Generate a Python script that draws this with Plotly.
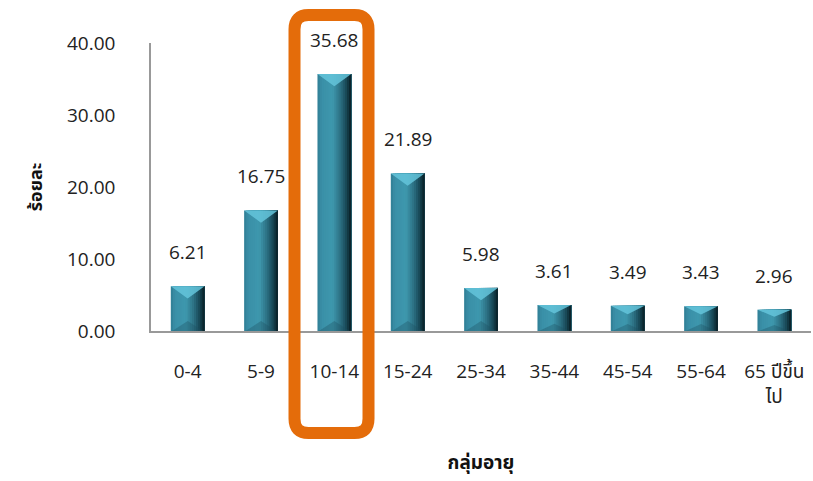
import plotly.graph_objects as go

# Age-group shares (percent)
age_groups = ["0-4", "5-9", "10-14", "15-24", "25-34", "35-44", "45-54", "55-64", "65 ปีขึ้น<br>ไป"]
percent = [6.21, 16.75, 35.68, 21.89, 5.98, 3.61, 3.49, 3.43, 2.96]
y_ticks = [0, 10, 20, 30, 40]

FONT = "Open Sans, Noto Sans Thai, Noto Sans, sans-serif"
BAR_W = 0.46
xs = list(range(len(percent)))

# horizontal shading across each bar: left -> right
stops = [
    (0.00, (47, 126, 148)),
    (0.12, (58, 143, 167)),
    (0.45, (62, 152, 174)),
    (0.68, (44, 112, 131)),
    (0.86, (23, 70, 84)),
    (1.00, (9, 28, 34)),
]


def shade(t):
    for (t0, c0), (t1, c1) in zip(stops, stops[1:]):
        if t0 <= t <= t1:
            f = (t - t0) / (t1 - t0)
            return "rgb(%d,%d,%d)" % tuple(round(a + (b - a) * f) for a, b in zip(c0, c1))
    return "rgb(%d,%d,%d)" % stops[-1][1]


fig = go.Figure()

# each layer starts a bit further right and runs to the bar's right edge,
# so the layers stack without seams
N = 16
strip = BAR_W / N
for k in range(N):
    fig.add_trace(go.Bar(
        x=xs, y=percent,
        width=[BAR_W - k * strip] * len(xs),
        offset=-BAR_W / 2 + k * strip,
        marker=dict(color=shade((k + 0.5) / N), line=dict(width=0)),
        hoverinfo="skip", showlegend=False,
    ))

# bevel facets: light wedge at the top, faint wedge at the base
top_x, top_y, bot_x, bot_y = [], [], [], []
for i, v in zip(xs, percent):
    d = min(1.7, v * 0.33)
    top_x += [i - BAR_W / 2, i + BAR_W / 2, i, i - BAR_W / 2, None]
    top_y += [v, v, v - d, v, None]
    b = min(1.4, v * 0.28)
    bot_x += [i - BAR_W / 2 + 0.02, i + BAR_W / 2 - 0.02, i, i - BAR_W / 2 + 0.02, None]
    bot_y += [0, 0, b, 0, None]

fig.add_trace(go.Scatter(
    x=top_x, y=top_y, mode="lines", fill="toself",
    fillcolor="rgba(100,196,218,0.85)", line=dict(width=0),
    hoverinfo="skip", showlegend=False,
))
fig.add_trace(go.Scatter(
    x=bot_x, y=bot_y, mode="lines", fill="toself",
    fillcolor="rgba(30,80,96,0.35)", line=dict(width=0),
    hoverinfo="skip", showlegend=False,
))

# value labels above the bars
for i, v in zip(xs, percent):
    fig.add_annotation(
        x=i, y=v, text="%.2f" % v, showarrow=False,
        yanchor="bottom", yshift=19,
        font=dict(family=FONT, size=19, color="#222222"),
    )

# highlight frame around the 10-14 group (rounded rectangle)
x0, x1 = 1.457, 2.466
y0, y1 = -0.354, 1.097
rx, ry = 0.19, 0.049
path = (
    f"M {x0 + rx} {y1} L {x1 - rx} {y1} Q {x1} {y1} {x1} {y1 - ry} "
    f"L {x1} {y0 + ry} Q {x1} {y0} {x1 - rx} {y0} "
    f"L {x0 + rx} {y0} Q {x0} {y0} {x0} {y0 + ry} "
    f"L {x0} {y1 - ry} Q {x0} {y1} {x0 + rx} {y1} Z"
)
fig.add_shape(type="path", path=path, xref="x", yref="paper",
              line=dict(color="#E46C0A", width=12))

fig.update_layout(
    width=813, height=481,
    margin=dict(l=151, r=2, t=43, b=150),
    paper_bgcolor="white", plot_bgcolor="white",
    barmode="overlay",
    font=dict(family=FONT, size=19, color="#222222"),
    xaxis=dict(
        range=[-0.5, 8.5],
        tickmode="array", tickvals=xs, ticktext=age_groups,
        showline=True, linecolor="#999999", linewidth=2,
        showgrid=False, zeroline=False, ticks="",
        ticklabelstandoff=22,
        tickfont=dict(family=FONT, size=19, color="#222222"),
        title=dict(text="<b>กลุ่มอายุ</b>", standoff=48,
                   font=dict(family=FONT, size=19, color="#111111")),
    ),
    yaxis=dict(
        range=[0, 40],
        tickmode="array", tickvals=y_ticks,
        ticktext=["%.2f" % t for t in y_ticks],
        showline=True, linecolor="#999999", linewidth=1.5,
        showgrid=False, zeroline=False, ticks="",
        ticklabelstandoff=30,
        tickfont=dict(family=FONT, size=19, color="#222222"),
        title=dict(text="<b>ร้อยละ</b>", standoff=20,
                   font=dict(family=FONT, size=18, color="#111111")),
    ),
)

fig.write_html("out.html")
